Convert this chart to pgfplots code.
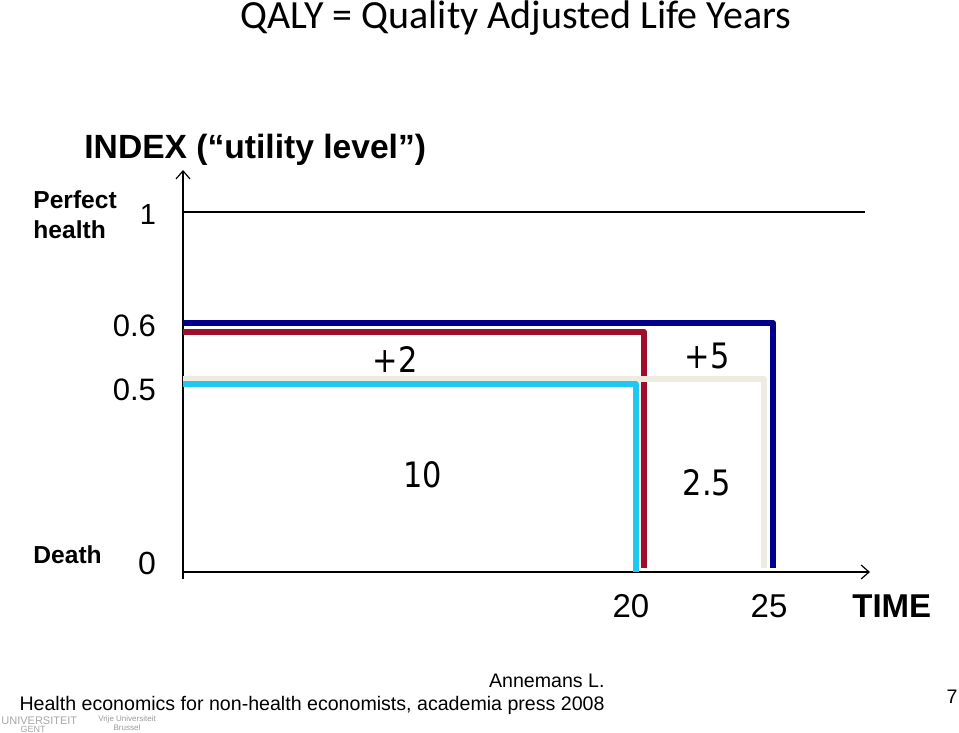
\documentclass[border=0pt]{standalone}
\usepackage{pgfplots}
\pgfplotsset{compat=1.18}
\usetikzlibrary{arrows.meta}
\usepackage{fontspec}
\setmainfont{Liberation Sans}
\newfontfamily\carlito{Carlito}
\newfontfamily\tahomaish[FakeStretch=0.87]{DejaVu Sans}
\definecolor{navyline}{RGB}{0,0,140}
\definecolor{redline}{RGB}{158,15,45}
\definecolor{beigeline}{RGB}{238,236,225}
\definecolor{blueline}{RGB}{30,200,240}
\begin{document}
\begin{tikzpicture}[x=0.5pt,y=-0.5pt]
\path[use as bounding box] (0,0) rectangle (959,733);
\begin{axis}[
  at={(91.5pt,-286pt)}, anchor=south west,
  scale only axis, width=343.5pt, height=201pt,
  xmin=0, xmax=30, ymin=0, ymax=1.1167,
  clip=false,
  axis lines=left,
  axis line style={line width=0.6pt},
  every outer x axis line/.append style={-{Straight Barb[length=4pt,width=7pt]}},
  every outer y axis line/.append style={-{Straight Barb[length=4pt,width=7pt]}, shorten <=-3.5pt},
  major tick length=0pt,
  /pgf/number format/assume math mode=true,
  xtick={19.56,25.59}, xticklabels={20,25},
  xticklabel style={anchor=center, yshift=-17pt, font=\fontsize{16.5}{18}\selectfont},
  ytick={0.025,0.506,0.683,0.992},
  yticklabels={{\fontsize{16}{18}\selectfont 0\hspace{3.5pt}},{0.5},{0.6},{\fontsize{14.5}{16}\selectfont 1}},
  yticklabel style={anchor=east, xshift=-10pt, font=\fontsize{15.5}{17}\selectfont},
]
\addplot[black, line width=0.75pt] coordinates {(0,1) (29.8,1)};
\addplot[navyline, line width=3pt, line join=round] coordinates {(0,0.692) (25.76,0.692) (25.76,0.011)};
\addplot[redline, line width=3pt, line join=round] coordinates {(0,0.667) (20.13,0.667) (20.13,0.011)};
\addplot[beigeline, line width=3pt, line join=round] coordinates {(0,0.536) (25.37,0.536) (25.37,0.011)};
\addplot[blueline, line width=3pt, line join=round] coordinates {(0,0.522) (19.78,0.522) (19.78,0)};
\end{axis}
\node[font=\carlito\fontsize{20}{22}\selectfont] at (516,18) {QALY = Quality Adjusted Life Years};
\node[font=\bfseries\fontsize{16.8}{18}\selectfont, anchor=base west, inner sep=0pt] at (84,159) {INDEX (“utility level”)};
\node[font=\bfseries\fontsize{12.3}{14}\selectfont, anchor=base west, inner sep=0pt] at (33,208) {Perfect};
\node[font=\bfseries\fontsize{12.3}{14}\selectfont, anchor=base west, inner sep=0pt] at (33,238) {health};
\node[font=\bfseries\fontsize{12.3}{14}\selectfont, anchor=base west, inner sep=0pt] at (33,563) {Death};
\node[font=\bfseries\fontsize{16.5}{18}\selectfont, anchor=base west, inner sep=0pt] at (852,617) {TIME};
\node[font=\tahomaish\fontsize{17.5}{19}\selectfont] at (395,360) {+2};
\node[font=\tahomaish\fontsize{17.5}{19}\selectfont] at (423,475) {10};
\node[font=\tahomaish\fontsize{17.5}{19}\selectfont] at (707,356) {+5};
\node[font=\tahomaish\fontsize{17.5}{19}\selectfont] at (707,483) {2.5};
\node[font=\fontsize{5.5}{6}\selectfont, text=gray!70, anchor=base west, inner sep=0pt] at (1,724) {UNIVERSITEIT};
\node[font=\fontsize{4.5}{5}\selectfont, text=gray!70, anchor=base, inner sep=0pt] at (33,732) {GENT};
\node[font=\fontsize{4}{5}\selectfont, text=gray!80] at (127,719) {Vrije Universiteit};
\node[font=\fontsize{4}{5}\selectfont, text=gray!80] at (127,728) {Brussel};
\node[font=\fontsize{9.8}{11}\selectfont, anchor=base east, inner sep=0pt] at (605,687) {Annemans L.};
\node[font=\fontsize{9.8}{11}\selectfont, anchor=base east, inner sep=0pt] at (605,710) {Health economics for non-health economists, academia press 2008};
\node[font=\fontsize{9.8}{11}\selectfont] at (952,697) {7};
\end{tikzpicture}
\end{document}
